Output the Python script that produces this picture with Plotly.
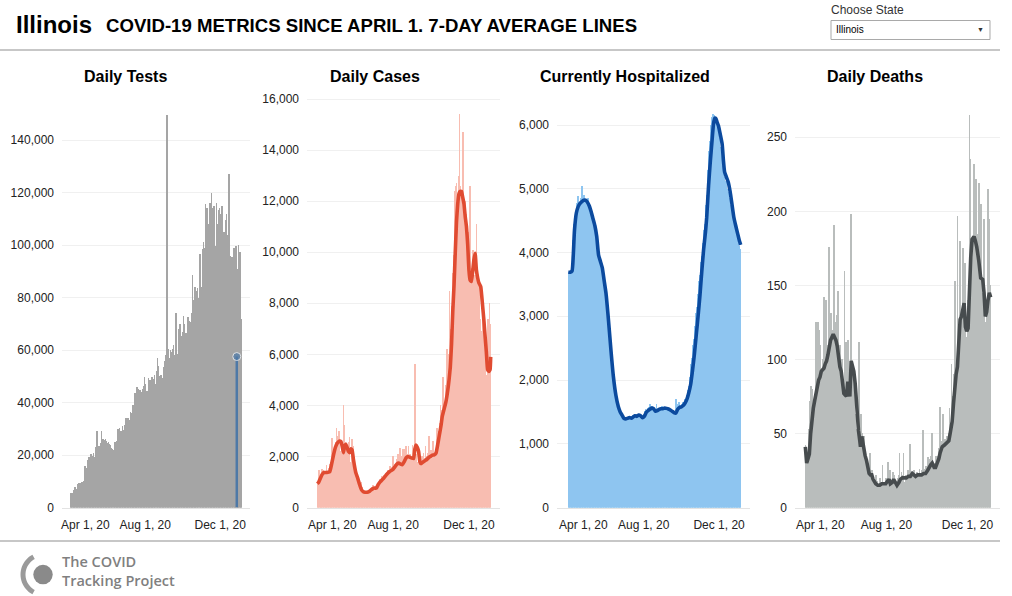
import math
import pandas as pd
import plotly.graph_objects as go

W, H = 1012, 596
START_DATE = "2020-04-01"

# ---------------- data (daily values, Apr 1 2020 -> Jan 5 2021) ----------------
tests = [
    5400, 5300, 5500, 5600, 5700, 6200, 6800, 6300, 8000, 7000,
    7200, 7000, 6600, 9000, 9300, 8800, 8500, 9400, 9300, 9900,
    8600, 9800, 10200, 9700, 16000, 14400, 14300, 15000, 18200, 17500,
    19300, 16600, 14000, 19000, 20200, 17800, 18800, 19500, 20700, 17000,
    19200, 22400, 23200, 29300, 23400, 23600, 23200, 23300, 22000, 23800,
    24500, 29300, 25800, 26000, 25900, 25700, 25500, 26000, 25200, 24800,
    24600, 24000, 24900, 24300, 23500, 23800, 22800, 22400, 21500, 22200,
    21300, 21800, 23000, 25000, 22800, 25500, 24300, 26000, 30000, 25400,
    30200, 26800, 28500, 29000, 27500, 31000, 29500, 28300, 31600, 30000,
    31500, 34200, 33500, 33000, 34000, 32500, 31800, 33500, 36300, 35000,
    36000, 39000, 38000, 37500, 39200, 43500, 41500, 41000, 44000, 46000,
    45000, 41000, 40800, 44800, 42000, 41200, 41500, 44000, 45000, 43500,
    46200, 49800, 47000, 44000, 43600, 44500, 43800, 49300, 46500, 44000,
    48500, 45000, 47800, 49600, 46000, 45000, 48800, 50500, 47000, 46500,
    49000, 52000, 56800, 54000, 50000, 49500, 47800, 48500, 50500, 49000,
    48000, 49500, 53500, 50000, 56000, 55000, 58000, 149500, 61700, 60200,
    59500, 52000, 57000, 60000, 59200, 52500, 54000, 60500, 62000, 58000,
    55500, 66000, 74200, 63000, 57000, 58500, 68000, 63500, 55000, 69800,
    65500, 61000, 60000, 67000, 72800, 70000, 57500, 63000, 66500, 64000,
    58800, 62000, 72500, 71000, 66000, 65500, 70500, 68000, 74000, 88500,
    79000, 76000, 81500, 84000, 74500, 77000, 82500, 83800, 80000, 72000,
    85000, 96500, 90000, 84000, 80500, 98500, 87000, 101000, 99000, 92000,
    115800, 102000, 104000, 114000, 108000, 91500, 96000, 116000, 110000, 113000,
    120000, 114000, 101000, 104000, 115000, 110000, 99500, 93000, 116000, 108000,
    100000, 80000, 113500, 114000, 112000, 101000, 97000, 114800, 115000, 105000,
    105000, 90000, 96000, 109500, 112000, 98000, 86000, 104000, 127000, 112000,
    96000, 84000, 92000, 95500, 89000, 86000, 99000, 93000, 98000, 88000,
    99500, 57500, 70000, 91000, 100000, 95000, 97500, 76500, 72000, 62000,
]

cases = [
    930, 710, 1200, 1450, 1250, 900, 1000, 1300, 1500, 1350,
    1450, 1300, 1150, 1200, 1300, 1650, 1350, 1140, 1400, 1550,
    1700, 1800, 1550, 1900, 2720, 2200, 1600, 2100, 1900, 2560,
    2340, 3130, 2800, 2300, 2950, 3000, 2450, 2200, 2050, 2340,
    2340, 2100, 4014, 2900, 3240, 2550, 2300, 2000, 2200, 2400,
    2500, 2560, 2760, 1800, 1600, 2100, 2700, 2400, 1200, 1900,
    1600, 1400, 1200, 1300, 1100, 1000, 1200, 900, 900, 800,
    950, 1000, 750, 800, 660, 700, 650, 600, 580, 500,
    620, 560, 600, 700, 550, 650, 700, 720, 800, 740,
    870, 780, 700, 820, 600, 800, 850, 960, 900, 1000,
    1100, 1020, 980, 1200, 1250, 1050, 1100, 1280, 1180, 1250,
    1350, 1100, 1400, 1380, 1470, 1300, 1200, 1640, 1550, 1600,
    1380, 1450, 2000, 1700, 1700, 1560, 1700, 1650, 1900, 1700,
    2080, 1540, 1800, 2320, 1620, 1700, 2000, 1760, 2280, 2300,
    2300, 2000, 1700, 2400, 2000, 2100, 1950, 2400, 1950, 2100,
    2050, 1700, 1900, 2450, 1700, 2200, 1800, 5620, 2800, 2100,
    1400, 1600, 1800, 2100, 1450, 1700, 1900, 1800, 2000, 1750,
    1500, 2150, 1950, 1850, 2400, 1600, 1850, 2000, 2150, 1800,
    2800, 1700, 2050, 2250, 2250, 2000, 2600, 2300, 1900, 2100,
    2300, 2200, 2700, 3100, 2400, 2900, 3000, 3300, 4000, 3500,
    3800, 3700, 5100, 4200, 3900, 4000, 4300, 4800, 5000, 6200,
    5400, 6000, 4800, 8500, 6600, 7000, 6800, 7900, 9200, 9900,
    9800, 10500, 12400, 12600, 12700, 11000, 10200, 12500, 13000, 15400,
    12600, 12300, 11600, 11300, 14700, 12000, 10000, 9500, 12000, 10900,
    11500, 11000, 10200, 7900, 10800, 9300, 12600, 7800, 8900, 9400,
    9200, 10100, 8800, 7900, 9100, 9000, 11100, 8800, 8500, 8700,
    8800, 7300, 7400, 6700, 6500, 6900, 7400, 6000, 6900, 5500,
    6000, 4500, 5200, 4800, 4500, 7400, 5800, 8000, 7200, 5000,
]

hospitalized = [
    3680, 3690, 3700, 3690, 3700, 3700, 3710, 3750, 4200, 4450,
    4400, 4500, 4600, 4560, 4780, 4700, 4880, 4650, 4720, 4800,
    4850, 4700, 5050, 4800, 4780, 4900, 4850, 4800, 4830, 4750,
    4830, 4780, 4850, 4720, 4700, 4650, 4700, 4600, 4580, 4520,
    4560, 4480, 4420, 4380, 4300, 4200, 4150, 4000, 3950, 3920,
    3880, 3850, 3850, 3820, 3760, 3700, 3680, 3560, 3500, 3420,
    3380, 3300, 3200, 3100, 3000, 2900, 2800, 2700, 2560, 2450,
    2350, 2250, 2150, 2050, 1980, 1900, 1820, 1750, 1700, 1650,
    1620, 1580, 1560, 1530, 1500, 1480, 1460, 1440, 1430, 1420,
    1380, 1360, 1400, 1390, 1420, 1380, 1410, 1400, 1430, 1410,
    1390, 1400, 1420, 1380, 1430, 1450, 1440, 1460, 1430, 1450,
    1440, 1420, 1470, 1460, 1440, 1450, 1420, 1400, 1410, 1420,
    1410, 1440, 1460, 1500, 1520, 1540, 1500, 1530, 1550, 1560,
    1540, 1580, 1620, 1560, 1570, 1600, 1550, 1560, 1540, 1520,
    1500, 1510, 1530, 1620, 1520, 1540, 1550, 1560, 1540, 1580,
    1560, 1550, 1600, 1540, 1560, 1580, 1570, 1550, 1560, 1540,
    1550, 1530, 1560, 1540, 1520, 1530, 1510, 1500, 1490, 1480,
    1470, 1490, 1460, 1480, 1700, 1560, 1600, 1580, 1620, 1650,
    1580, 1590, 1560, 1600, 1620, 1650, 1610, 1660, 1700, 1680,
    1700, 1720, 1760, 1800, 1850, 1900, 1980, 2050, 2150, 2250,
    2350, 2450, 2550, 2650, 2750, 2850, 2950, 3050, 3150, 3250,
    3350, 3450, 3550, 3650, 3750, 3850, 3950, 4050, 4150, 4250,
    4350, 4450, 4600, 4750, 4900, 5100, 5300, 5450, 5600, 5750,
    5900, 6000, 6050, 6120, 6175, 6150, 6160, 6130, 6100, 6080,
    6050, 6000, 5950, 5880, 5800, 5750, 5650, 5560, 5460, 5350,
    5280, 5220, 5180, 5150, 5120, 5100, 5060, 5000, 4950, 4900,
    4850, 4800, 4750, 4700, 4650, 4600, 4550, 4500, 4450, 4420,
    4380, 4350, 4300, 4250, 4200, 4150, 4100, 4080, 4050, 4000,
]

deaths = [
    42, 28, 30, 35, 36, 53, 38, 72, 66, 82,
    80, 45, 70, 60, 74, 70, 125, 80, 90, 125,
    95, 120, 110, 105, 90, 85, 95, 100, 142, 92,
    100, 140, 95, 110, 105, 88, 176, 115, 130, 131,
    100, 120, 110, 191, 137, 98, 125, 130, 90, 146,
    110, 92, 110, 65, 80, 100, 65, 75, 78, 160,
    70, 112, 78, 65, 113, 75, 80, 68, 50, 198,
    90, 80, 92, 85, 83, 63, 30, 28, 53, 60,
    52, 112, 40, 45, 63, 38, 50, 33, 48, 30,
    37, 28, 30, 25, 22, 20, 8, 37, 22, 24,
    25, 22, 18, 14, 16, 15, 22, 12, 18, 13,
    15, 14, 20, 16, 12, 15, 29, 14, 15, 17,
    16, 20, 12, 18, 31, 22, 17, 25, 14, 15,
    18, 20, 24, 15, 22, 18, 15, 14, 12, 20,
    18, 22, 37, 15, 20, 24, 18, 22, 37, 17,
    10, 22, 21, 20, 19, 25, 20, 22, 43, 21,
    24, 23, 20, 22, 25, 18, 21, 20, 24, 22,
    21, 22, 26, 20, 23, 22, 25, 52, 24, 22,
    26, 24, 28, 22, 25, 34, 30, 26, 33, 35,
    30, 50, 28, 25, 30, 27, 24, 35, 29, 33,
    35, 40, 42, 68, 35, 40, 45, 63, 38, 44,
    46, 42, 40, 48, 45, 44, 50, 67, 48, 55,
    97, 60, 75, 90, 82, 153, 88, 95, 80, 197,
    120, 105, 140, 180, 130, 125, 118, 175, 140, 135,
    165, 95, 90, 115, 130, 140, 150, 265, 235, 170,
    160, 180, 175, 190, 232, 150, 160, 222, 170, 185,
    140, 219, 160, 150, 205, 130, 145, 140, 160, 195,
    125, 105, 110, 130, 140, 215, 120, 195, 150, 44,
]

# 7-day average lines (day index since Apr 1, value)
cases_avg_day = [0, 2, 5, 8, 11, 14, 17, 20, 23, 26, 29, 32, 35, 38, 40, 42, 44, 46, 48, 50,
                 52, 54, 56, 58, 60, 62, 65, 68, 71, 74, 77, 80, 83, 86, 89, 92, 95, 98, 101, 104,
                 107, 110, 113, 116, 119, 122, 125, 128, 131, 134, 137, 140, 143, 146, 149, 152, 155, 157, 159, 161,
                 163, 165, 167, 170, 173, 176, 179, 182, 185, 188, 191, 194, 196, 199, 201, 204, 207, 210, 212, 214,
                 216, 218, 220, 222, 224, 226, 228, 230, 232, 234, 236, 238, 240, 242, 244, 246, 248, 250, 252, 254,
                 256, 258, 260, 263, 266, 268, 270, 272, 274, 276, 278, 279]
cases_avg = [930, 980, 1150, 1300, 1370, 1370, 1380, 1400, 1700, 2050, 2350, 2520, 2600, 2580, 2400, 2150, 2420, 2480, 2350, 2200,
             2150, 2300, 2250, 1900, 1600, 1360, 1150, 900, 700, 620, 600, 600, 620, 680, 730, 760, 760, 900, 1000, 1080,
             1150, 1250, 1330, 1400, 1450, 1500, 1600, 1700, 1740, 1700, 1680, 1800, 1950, 2000, 1970, 1940, 1920, 2300, 2450, 2350,
             2200, 1800, 1720, 1780, 1830, 1880, 1950, 2000, 2050, 2060, 2130, 2500, 2780, 3200, 3560, 3850, 4150, 4600, 5000, 5500,
             6400, 7700, 8700, 10000, 11200, 11900, 12300, 12380, 12380, 12150, 11900, 11400, 11000, 10300, 9300, 8900, 8850, 9250, 9700, 9960,
             9300, 9000, 8800, 8650, 7900, 7350, 6700, 6100, 5400, 5330, 5400, 5900]

hosp_avg_day = [0, 3, 6, 8, 10, 13, 16, 19, 22, 25, 28, 31, 34, 37, 40, 43, 46, 49, 52, 55,
                58, 61, 65, 69, 73, 77, 81, 84, 87, 90, 93, 96, 99, 102, 105, 108, 111, 114, 117, 120,
                123, 126, 129, 132, 135, 138, 141, 144, 147, 150, 153, 156, 159, 162, 165, 168, 171, 174, 177, 180,
                183, 186, 189, 192, 195, 198, 201, 204, 207, 210, 213, 216, 219, 222, 224, 227, 230, 233, 235, 237,
                239, 241, 243, 246, 249, 251, 253, 256, 259, 262, 265, 268, 271, 274, 277, 279]
hosp_avg = [3690, 3690, 3710, 3950, 4350, 4620, 4720, 4770, 4800, 4820, 4820, 4790, 4730, 4640, 4530, 4420, 4250, 3960, 3860, 3760,
            3560, 3360, 2940, 2470, 2050, 1760, 1580, 1500, 1450, 1400, 1390, 1400, 1410, 1400, 1420, 1440, 1430, 1450, 1440, 1410,
            1430, 1490, 1520, 1540, 1560, 1550, 1510, 1520, 1540, 1550, 1550, 1560, 1555, 1545, 1530, 1510, 1490, 1480, 1540, 1570,
            1580, 1600, 1640, 1700, 1800, 1930, 2150, 2400, 2700, 3000, 3320, 3700, 4050, 4320, 4550, 5050, 5450, 5800, 6020, 6110,
            6100, 6040, 5990, 5850, 5700, 5450, 5260, 5180, 5100, 4950, 4750, 4550, 4420, 4300, 4180, 4120]

deaths_avg_day = [0, 2, 4, 6, 8, 10, 12, 14, 16, 18, 20, 22, 24, 26, 28, 30, 32, 34, 36, 38,
                  40, 42, 44, 46, 48, 50, 52, 54, 56, 58, 60, 62, 64, 66, 67, 69, 71, 73, 75, 77,
                  78, 80, 82, 83, 85, 87, 88, 90, 92, 94, 96, 98, 100, 102, 104, 106, 109, 112, 115, 118,
                  121, 124, 126, 128, 131, 133, 136, 138, 141, 143, 146, 149, 152, 155, 158, 161, 163, 166, 169, 172,
                  175, 178, 181, 184, 186, 189, 191, 194, 196, 199, 201, 203, 206, 209, 211, 214, 216, 218, 221, 223,
                  225, 227, 229, 231, 233, 235, 237, 239, 241, 243, 245, 247, 249, 251, 254, 256, 258, 261, 264, 267,
                  269, 271, 273, 275, 277, 279]
deaths_avg = [41, 30, 33, 36, 50, 61, 67, 72, 78, 82, 86, 88, 92, 93, 94, 97, 99, 103, 109, 113,
              115, 117, 115, 113, 109, 100, 95, 92, 86, 77, 76, 75, 85, 80, 75, 99, 95, 92, 84, 70,
              57, 52, 45, 41, 48, 42, 39, 35, 32, 27, 23, 22, 22, 19, 17, 16, 15, 15, 16, 16,
              16, 18, 19, 16, 17, 19, 17, 15, 17, 19, 20, 20, 20, 21, 21, 23, 22, 21, 22, 22,
              22, 23, 23, 25, 27, 29, 30, 27, 27, 30, 33, 37, 41, 42, 43, 44, 45, 50, 58, 70,
              83, 90, 95, 115, 127, 129, 134, 138, 122, 119, 121, 150, 169, 181, 183, 180, 176, 167, 155, 154,
              145, 129, 132, 140, 145, 142]

highlight_day = 271          # highlighted bar (Dec 28)
highlight_value = 57500

x_tick_dates = ["2020-04-01", "2020-08-01", "2020-12-01"]
# first label is pushed right inside the plot, as in the original dashboard
x_tick_labels = ["\u2007\u2007\u2007\u2007\u2008Apr 1, 20", "Aug 1, 20", "Dec 1, 20"]

# ---------------- layout helpers ----------------
dates = pd.date_range(START_DATE, periods=len(tests), freq="D")
FONT = "Arial, 'Liberation Sans', sans-serif"


def px(x):
    return x / W


def py(y):
    return 1 - y / H


Y_BOTTOM, Y_TOP = 507.5, 98.0

panels = [
    dict(title="Daily Tests", cx=125, L=62, R=250, bl=70, br=242, ymax=156000, dtick=20000,
         bars=tests, bar_color="#a5a5a5", line=None),
    dict(title="Daily Cases", cx=375, L=307, R=500, bl=317, br=491, ymax=16040, dtick=2000,
         bars=cases, bar_color="#f8bdb1", line=(cases_avg_day, cases_avg, "#e04b31", "spline", 0.35)),
    dict(title="Currently Hospitalized", cx=625, L=557, R=750, bl=568, br=741, ymax=6424, dtick=1000,
         bars=hospitalized, bar_color="#8ec5f0", line=(hosp_avg_day, hosp_avg, "#0b4a9e", "spline", 0.5)),
    dict(title="Daily Deaths", cx=875, L=795, R=1000, bl=805, br=991, ymax=276.5, dtick=50,
         bars=deaths, bar_color="#b9bdbc", line=(deaths_avg_day, deaths_avg, "#474c4e", "linear", 0)),
]

fig = go.Figure()
N = len(tests)
t0 = pd.Timestamp(START_DATE) - pd.Timedelta(hours=12)
t1 = t0 + pd.Timedelta(days=N)

annotations = []
for i, p in enumerate(panels, start=1):
    sfx = "" if i == 1 else str(i)
    xa, ya = "x" + sfx, "y" + sfx
    fig.add_trace(go.Bar(x=dates, y=p["bars"], width=86400000, marker=dict(color=p["bar_color"], line=dict(width=0)),
                         xaxis=xa, yaxis=ya, hoverinfo="skip", showlegend=False))
    if p["line"] is not None:
        d, v, c, shp, sm = p["line"]
        line_style = dict(color=c, width=3.6, shape=shp)
        if shp == "spline":
            line_style["smoothing"] = sm
        fig.add_trace(go.Scatter(x=[dates[k] for k in d], y=v, mode="lines", line=line_style,
                                 xaxis=xa, yaxis=ya, hoverinfo="skip", showlegend=False))
    if i == 1:
        hd = dates[highlight_day]
        fig.add_trace(go.Scatter(x=[hd, hd], y=[0, highlight_value], mode="lines+markers",
                                 line=dict(color="#4e79a7", width=2.5),
                                 marker=dict(size=[0, 8], color="#4e79a7"),
                                 xaxis=xa, yaxis=ya, hoverinfo="skip", showlegend=False))
    scale = (p["br"] - p["bl"]) / N
    r0 = t0 - pd.Timedelta(days=(p["bl"] - p["L"]) / scale)
    r1 = t1 + pd.Timedelta(days=(p["R"] - p["br"]) / scale)
    fig.layout["xaxis" + sfx] = dict(
        domain=[px(p["L"]), px(p["R"])], anchor=ya, type="date", automargin=False,
        range=[r0.strftime("%Y-%m-%d %H:%M:%S"), r1.strftime("%Y-%m-%d %H:%M:%S")],
        tickmode="array", tickvals=x_tick_dates, ticktext=x_tick_labels,
        showgrid=False, zeroline=False, showline=True, linecolor="#e3e3e3", linewidth=1,
        ticks="", ticklabelstandoff=6, tickfont=dict(family=FONT, size=12, color="#222"),
        fixedrange=True,
    )
    fig.layout["yaxis" + sfx] = dict(
        domain=[py(Y_BOTTOM), py(Y_TOP)], anchor=xa, range=[0, p["ymax"]], automargin=False,
        dtick=p["dtick"], tick0=0, tickformat=",d",
        showgrid=True, gridcolor="#f0f0f0", gridwidth=1, zeroline=False, showline=False,
        ticks="", ticklabelstandoff=7, tickfont=dict(family=FONT, size=12, color="#222"),
        fixedrange=True,
    )
    annotations.append(dict(text=p["title"], x=px(p["cx"]), y=py(76), xref="paper", yref="paper",
                            xanchor="center", yanchor="middle", showarrow=False,
                            font=dict(family=FONT, size=16, color="#000", weight="bold")))

# header texts
annotations += [
    dict(text="Illinois", x=px(14), y=py(25), xref="paper", yref="paper", xanchor="left", yanchor="middle",
         showarrow=False, font=dict(family=FONT, size=24, color="#000", weight="bold")),
    dict(text="COVID-19 METRICS SINCE APRIL 1. 7-DAY AVERAGE LINES", x=px(104), y=py(26), xref="paper", yref="paper",
         xanchor="left", yanchor="middle", showarrow=False,
         font=dict(family=FONT, size=18.6, color="#000", weight="bold")),
    dict(text="Choose State", x=px(829), y=py(10), xref="paper", yref="paper", xanchor="left", yanchor="middle",
         showarrow=False, font=dict(family=FONT, size=12, color="#333")),
    dict(text="Illinois", x=px(834), y=py(30), xref="paper", yref="paper", xanchor="left", yanchor="middle",
         showarrow=False, font=dict(family=FONT, size=10, color="#000")),
    dict(text="▼", x=px(980), y=py(30), xref="paper", yref="paper", xanchor="center", yanchor="middle",
         showarrow=False, font=dict(family=FONT, size=7, color="#333")),
    dict(text="The COVID<br>Tracking Project", x=px(60), y=py(571), xref="paper", yref="paper",
         xanchor="left", yanchor="middle", align="left", showarrow=False,
         font=dict(family="'Open Sans', sans-serif", size=14.5, color="#808080", weight=600)),
]

# logo arc (outer ring segment on the left side)
cxl, cyl = 43.0, 574.5
r_out, r_in = 22.5, 17.5
a0, a1 = math.radians(118), math.radians(242)
steps = 24
outer = [(cxl + r_out * math.cos(a0 + (a1 - a0) * k / steps), cyl - r_out * math.sin(a0 + (a1 - a0) * k / steps))
         for k in range(steps + 1)]
inner = [(cxl + r_in * math.cos(a1 - (a1 - a0) * k / steps), cyl - r_in * math.sin(a1 - (a1 - a0) * k / steps))
         for k in range(steps + 1)]
arc_path = "M " + " L ".join(f"{px(x):.5f},{py(y):.5f}" for x, y in outer + inner) + " Z"

shapes = [
    dict(type="line", xref="paper", yref="paper", x0=0, x1=px(1000), y0=py(50), y1=py(50),
         line=dict(color="#b5b5b5", width=1.5)),
    dict(type="line", xref="paper", yref="paper", x0=0, x1=px(1000), y0=py(541), y1=py(541),
         line=dict(color="#b5b5b5", width=1.5)),
    dict(type="rect", xref="paper", yref="paper", x0=px(831), x1=px(990), y0=py(39.5), y1=py(20.5),
         line=dict(color="#a9a9a9", width=1), fillcolor="#fff"),
    dict(type="circle", xref="paper", yref="paper", x0=px(33.3), x1=px(52.7), y0=py(584.3), y1=py(564.8),
         line=dict(width=0), fillcolor="#8a8a8a"),
    dict(type="path", xref="paper", yref="paper", path=arc_path, line=dict(width=0), fillcolor="#9a9a9a"),
]

fig.update_layout(
    width=W, height=H, margin=dict(l=0, r=0, t=0, b=0, autoexpand=False),
    paper_bgcolor="#ffffff", plot_bgcolor="#ffffff",
    barmode="overlay", bargap=0, showlegend=False,
    annotations=annotations, shapes=shapes,
    font=dict(family=FONT),
)

fig.write_html("out.html", config={"displayModeBar": False},
               post_script="document.body.style.margin='0px';document.body.style.overflow='hidden';")
